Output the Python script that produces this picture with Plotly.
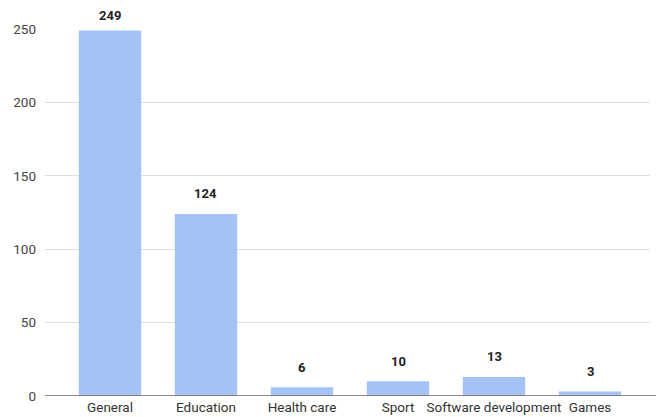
import plotly.graph_objects as go

categories = ["General", "Education", "Health care", "Sport", "Software development", "Games"]
values = [249, 124, 6, 10, 13, 3]
y_ticks = [0, 50, 100, 150, 200, 250]

x_idx = list(range(len(categories)))

fig = go.Figure()
fig.add_trace(go.Bar(
    x=x_idx,
    y=values,
    marker=dict(color="#a4c2f4", line=dict(width=0)),
    width=0.65,
    cliponaxis=False,
))

for i, v in zip(x_idx, values):
    fig.add_annotation(
        x=i, y=v, xref="x", yref="y",
        text=f"<b>{v}</b>", showarrow=False,
        yanchor="middle", yshift=15 if v >= 240 else 20,
        font=dict(family="Roboto", size=13, color="#222222"),
    )

fig.update_layout(
    width=658, height=417,
    margin=dict(l=45, r=8, t=29, b=21, autoexpand=False),
    paper_bgcolor="white", plot_bgcolor="white",
    font=dict(family="Roboto", size=13, color="#444444"),
    showlegend=False,
)
fig.update_xaxes(
    tickmode="array",
    tickvals=x_idx,
    ticktext=categories,
    range=[-0.677, 5.625],
    showgrid=False, zeroline=False, showline=False,
    ticks="",
    automargin=False,
    ticklabelstandoff=1,
    tickfont=dict(family="Roboto", size=13.5, color="#333333"),
)
fig.update_yaxes(
    range=[0, 250],
    tickvals=y_ticks,
    showgrid=True, gridcolor="#dddddd", gridwidth=1,
    zeroline=False, showline=False,
    ticks="",
    automargin=False,
    ticklabelstandoff=8,
    tickfont=dict(family="Roboto", size=13.5, color="#444444"),
)
fig.add_shape(type="line", xref="paper", yref="y", x0=0, x1=1.01, y0=0, y1=0,
              line=dict(color="#666666", width=1.5), layer="above")

fig.write_html("out.html")
